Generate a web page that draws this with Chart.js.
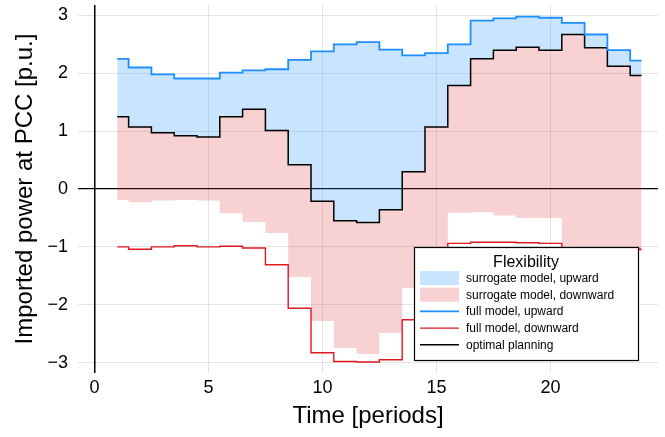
<!DOCTYPE html>
<html>
<head>
<meta charset="utf-8">
<script src="https://cdn.jsdelivr.net/npm/chart.js@4.4.0/dist/chart.umd.min.js"></script>
<style>
  body { margin: 0; background: #fff; }
  #wrap { width: 665px; height: 437px; }
</style>
</head>
<body>
<div id="wrap"><canvas id="flexChart"></canvas></div>
<script>
// Data (one value per period)
const periods = [1, 2, 3, 4, 5, 6, 7, 8, 9, 10, 11, 12, 13, 14, 15, 16, 17, 18, 19, 20, 21, 22, 23, 24];
const surrogateUp = [2.25, 2.10, 1.98, 1.91, 1.91, 2.01, 2.05, 2.07, 2.23, 2.38, 2.50, 2.54, 2.41, 2.31, 2.35, 2.50, 2.91, 2.95, 2.98, 2.96, 2.87, 2.67, 2.40, 2.22];
const surrogateDown = [-0.19, -0.23, -0.20, -0.19, -0.20, -0.42, -0.57, -0.76, -1.52, -2.28, -2.75, -2.85, -2.49, -1.71, -1.10, -0.41, -0.40, -0.46, -0.50, -0.50, -1.08, -1.08, -1.08, -1.08];
const fullUp = [2.25, 2.10, 1.98, 1.91, 1.91, 2.01, 2.05, 2.07, 2.23, 2.38, 2.50, 2.54, 2.41, 2.31, 2.35, 2.50, 2.91, 2.95, 2.98, 2.96, 2.87, 2.67, 2.40, 2.22];
const fullDown = [-1.00, -1.04, -1.00, -0.98, -1.00, -0.99, -1.02, -1.31, -2.06, -2.83, -2.98, -2.99, -2.95, -2.26, -1.60, -0.94, -0.92, -0.92, -0.93, -0.94, -1.04, -1.04, -1.04, -1.04];
const optimal = [1.25, 1.07, 0.97, 0.92, 0.90, 1.25, 1.38, 1.01, 0.42, -0.21, -0.55, -0.58, -0.36, 0.30, 1.07, 1.79, 2.25, 2.40, 2.45, 2.40, 2.67, 2.44, 2.12, 1.96];

const xTicks = [0, 5, 10, 15, 20];
const yTicks = [-3, -2, -1, 0, 1, 2, 3];

const BLUE = '#1e8fff';
const RED = '#e0191f';
const BLUE_FILL = 'rgba(30, 143, 255, 0.24)';
const RED_FILL = 'rgba(222, 40, 48, 0.21)';
const GRID = 'rgba(0, 0, 0, 0.1)';

Chart.defaults.font.family = '"Liberation Sans", Arial, Helvetica, sans-serif';
Chart.defaults.color = '#000';

function points(values) {
    return periods.map((p, i) => ({ x: p, y: values[i] }));
}

function stepLine(label, values, color, width, extra) {
    return Object.assign({
        label: label,
        data: points(values),
        borderColor: color,
        borderWidth: width,
        stepped: 'middle',
        pointRadius: 0,
        fill: false
    }, extra || {});
}

// Legend drawn inside the plot, lower right, like the original
const legendBox = {
    id: 'legendBox',
    afterDraw(chart) {
        const { ctx, chartArea } = chart;
        const w = 224, h = 113;
        const x = chartArea.right - 20 - w;
        const y = chartArea.bottom - 13 - h;
        ctx.save();
        ctx.fillStyle = '#fff';
        ctx.fillRect(x, y, w, h);
        ctx.strokeStyle = '#000';
        ctx.lineWidth = 1.2;
        ctx.strokeRect(x + 0.5, y + 0.5, w, h);

        ctx.fillStyle = '#000';
        ctx.textAlign = 'center';
        ctx.textBaseline = 'middle';
        ctx.font = '16px ' + Chart.defaults.font.family;
        ctx.fillText('Flexibility', x + w / 2, y + 16);

        ctx.font = '12px ' + Chart.defaults.font.family;
        ctx.textAlign = 'left';
        chart.data.datasets.forEach((ds, i) => {
            const cy = y + 31 + i * 16.7;
            if (ds.fill !== false) {
                ctx.fillStyle = ds.backgroundColor;
                ctx.fillRect(x + 6, cy - 7, 39, 14);
            } else {
                ctx.strokeStyle = ds.borderColor;
                ctx.lineWidth = ds.borderWidth;
                ctx.beginPath();
                ctx.moveTo(x + 6, cy);
                ctx.lineTo(x + 45, cy);
                ctx.stroke();
            }
            ctx.fillStyle = '#000';
            ctx.fillText(ds.label, x + 52, cy + 0.5);
        });
        ctx.restore();
    }
};

const fmt = v => String(v).replace('-', '\u2212');

const ctx = document.getElementById('flexChart').getContext('2d');
new Chart(ctx, {
    type: 'line',
    data: {
        datasets: [
            stepLine('surrogate model, upward', surrogateUp, 'rgba(0,0,0,0)', 0, { backgroundColor: BLUE_FILL, fill: 4 }),
            stepLine('surrogate model, downward', surrogateDown, 'rgba(0,0,0,0)', 0, { backgroundColor: RED_FILL, fill: 4 }),
            stepLine('full model, upward', fullUp, BLUE, 1.8),
            stepLine('full model, downward', fullDown, RED, 1.4),
            stepLine('optimal planning', optimal, '#000', 1.5)
        ]
    },
    options: {
        responsive: true,
        maintainAspectRatio: false,
        animation: false,
        layout: { padding: { top: 5, right: 7, left: 0, bottom: 0 } },
        plugins: {
            legend: { display: false },
            tooltip: { enabled: false },
            filler: { drawTime: 'beforeDatasetsDraw' }
        },
        scales: {
            x: {
                type: 'linear',
                min: -0.72,
                max: 24.72,
                afterBuildTicks: axis => { axis.ticks = xTicks.map(v => ({ value: v })); },
                afterFit: axis => {
                    axis.height = 64;
                    axis.paddingLeft = 0;
                    axis.paddingRight = 0;
                },
                border: { display: false },
                grid: {
                    drawTicks: false,
                    color: c => (c.tick && c.tick.value === 0 ? '#000' : GRID),
                    lineWidth: c => (c.tick && c.tick.value === 0 ? 1.5 : 1)
                },
                ticks: { padding: 4, font: { size: 18 }, callback: fmt },
                title: {
                    display: true,
                    text: 'Time [periods]',
                    font: { size: 24 },
                    padding: { top: 0, bottom: 6 }
                }
            },
            y: {
                min: -3.18,
                max: 3.18,
                afterBuildTicks: axis => { axis.ticks = yTicks.map(v => ({ value: v })); },
                afterFit: axis => {
                    axis.width = 78;
                    axis.paddingTop = 0;
                    axis.paddingBottom = 0;
                },
                border: { display: false },
                grid: {
                    drawTicks: false,
                    color: c => (c.tick && c.tick.value === 0 ? '#000' : GRID),
                    lineWidth: c => (c.tick && c.tick.value === 0 ? 1.3 : 1)
                },
                ticks: { padding: 10, font: { size: 18 }, callback: fmt },
                title: {
                    display: true,
                    text: 'Imported power at PCC [p.u.]',
                    font: { size: 24 },
                    padding: { top: 11, bottom: 0 }
                }
            }
        }
    },
    plugins: [legendBox]
});
</script>
</body>
</html>
